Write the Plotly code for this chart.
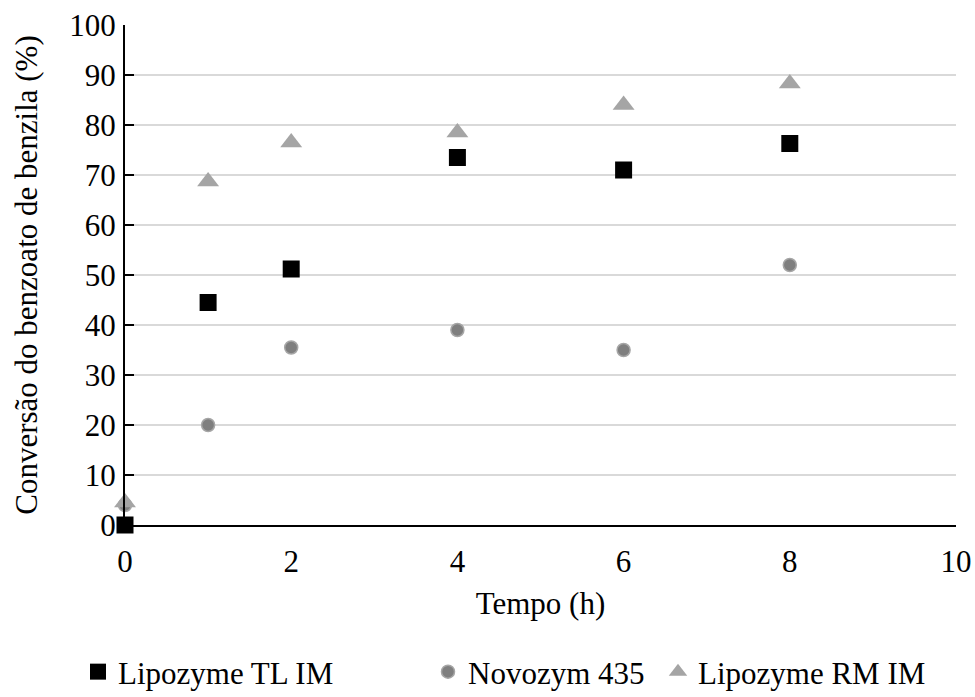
import plotly.graph_objects as go

tempo = [0, 1, 2, 4, 6, 8]
tl_im = [0, 44.5, 51.2, 73.5, 71.0, 76.3]
novozym = [4.0, 20.0, 35.5, 39.0, 35.0, 52.0]
rm_im = [4.5, 68.7, 76.5, 78.5, 84.0, 88.3]

FONT = "Liberation Serif"
FS = 31

fig = go.Figure()
fig.add_trace(go.Scatter(x=tempo, y=tl_im, mode="markers", name="Lipozyme TL IM",
                         marker=dict(symbol="square", size=17, color="#000000"),
                         cliponaxis=False, legend="legend"))
fig.add_trace(go.Scatter(x=tempo, y=novozym, mode="markers", name="Novozym 435",
                         marker=dict(symbol="circle", size=13, color="#7f7f7f",
                                     line=dict(color="#a6a6a6", width=1.5)),
                         cliponaxis=False, legend="legend2"))
fig.add_trace(go.Scatter(x=tempo, y=rm_im, mode="markers", name="Lipozyme RM IM",
                         marker=dict(symbol="triangle-up", size=19, color="#a5a5a5"),
                         cliponaxis=False, legend="legend3"))


def leg(xpx):
    return dict(orientation="h", yref="container", xref="container",
                yanchor="middle", y=1 - 672 / 697, xanchor="left", x=xpx / 975,
                font=dict(family=FONT, size=FS, color="#000000"),
                bgcolor="rgba(0,0,0,0)", itemwidth=30, borderwidth=0)


fig.update_layout(
    width=975, height=697,
    margin=dict(l=125, r=19, t=25, b=172, autoexpand=False),
    plot_bgcolor="white", paper_bgcolor="white",
    font=dict(family=FONT, size=FS, color="#000000"),
    showlegend=True,
    legend=leg(78),
    legend2=leg(428),
    legend3=leg(658),
    xaxis=dict(range=[0, 10], tickvals=[0, 2, 4, 6, 8, 10], showgrid=False,
               showline=True, linecolor="#000000", linewidth=2, ticks="",
               zeroline=False, ticklabelstandoff=8,
               tickfont=dict(family=FONT, size=FS, color="#000000"),
               title=dict(text="Tempo (h)", standoff=14,
                          font=dict(family=FONT, size=FS, color="#000000"))),
    yaxis=dict(range=[0, 100], tickvals=list(range(0, 101, 10)), showgrid=True,
               gridcolor="#d9d9d9", gridwidth=1.5,
               showline=True, linecolor="#000000", linewidth=2,
               ticks="inside", ticklen=9, tickcolor="#000000", tickwidth=2,
               zeroline=False, ticklabelstandoff=1,
               tickfont=dict(family=FONT, size=FS, color="#000000"),
               title=dict(text="Conversão do benzoato de benzila (%)", standoff=22,
                          font=dict(family=FONT, size=FS, color="#000000"))),
)

fig.write_html("out.html")
